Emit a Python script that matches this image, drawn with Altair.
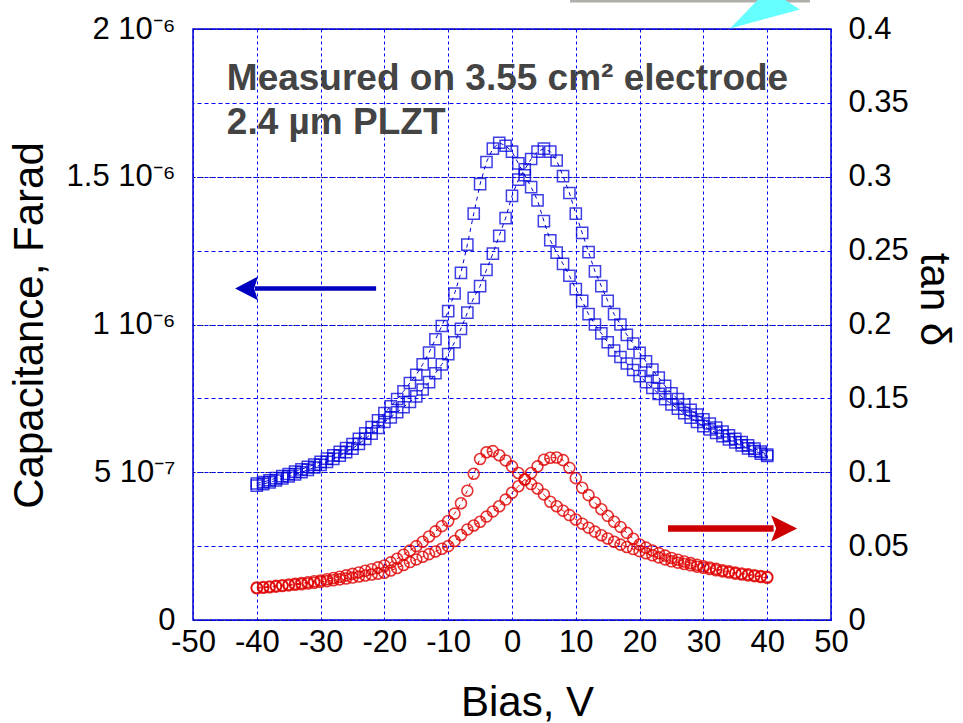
import altair as alt
import pandas as pd

FONT = "Liberation Sans"

# ---------------- data ----------------
bias_v = list(range(-40, 41))

# capacitance in units of 1e-7 F
cap_branch_a = [
    4.62, 4.67, 4.73, 4.80, 4.87, 4.94, 5.02, 5.10, 5.18, 5.26,
    5.35, 5.46, 5.57, 5.69, 5.82, 5.95, 6.13, 6.32, 6.53, 6.76,
    7.00, 7.23, 7.48, 7.74, 8.02, 8.30, 8.65, 9.05, 9.50, 9.95,
    10.45, 11.05, 11.75, 12.70, 13.75, 14.75, 15.50, 15.95, 16.15, 16.05,
    15.85, 15.45, 15.05, 14.65, 14.20, 13.50, 12.85, 12.43, 12.05, 11.65,
    11.20, 10.80, 10.35, 10.00, 9.70, 9.40, 9.12, 8.90, 8.68, 8.46,
    8.25, 8.05, 7.85, 7.65, 7.47, 7.30, 7.15, 7.00, 6.85, 6.70,
    6.56, 6.45, 6.33, 6.22, 6.11, 6.01, 5.91, 5.81, 5.72, 5.63,
    5.55,
]
cap_branch_b = [
    4.55, 4.60, 4.66, 4.72, 4.79, 4.86, 4.93, 5.00, 5.08, 5.16,
    5.25, 5.35, 5.45, 5.56, 5.68, 5.80, 5.96, 6.13, 6.31, 6.50,
    6.70, 6.86, 7.03, 7.20, 7.38, 7.57, 7.80, 8.05, 8.35, 8.65,
    9.00, 9.40, 9.85, 10.40, 10.90, 11.30, 11.85, 12.40, 13.00, 13.60,
    14.35, 14.90, 15.25, 15.60, 15.85, 15.95, 15.85, 15.55, 15.02, 14.45,
    13.75, 13.10, 12.45, 11.80, 11.30, 10.80, 10.35, 10.00, 9.65, 9.35,
    9.04, 8.75, 8.47, 8.20, 7.92, 7.67, 7.48, 7.29, 7.11, 6.95,
    6.79, 6.65, 6.51, 6.38, 6.25, 6.13, 6.02, 5.91, 5.80, 5.70,
    5.60,
]
tan_branch_a = [
    0.0220, 0.0223, 0.0227, 0.0231, 0.0235, 0.0240, 0.0245, 0.0250, 0.0256, 0.0262,
    0.0268, 0.0276, 0.0284, 0.0293, 0.0302, 0.0312, 0.0322, 0.0333, 0.0344, 0.0356,
    0.0369, 0.0390, 0.0415, 0.0442, 0.0470, 0.0500, 0.0530, 0.0565, 0.0600, 0.0635,
    0.0670, 0.0720, 0.0790, 0.0875, 0.0990, 0.1090, 0.1135, 0.1143, 0.1115, 0.1080,
    0.1040, 0.0995, 0.0951, 0.0920, 0.0890, 0.0850, 0.0800, 0.0770, 0.0740, 0.0710,
    0.0680, 0.0652, 0.0625, 0.0598, 0.0574, 0.0552, 0.0530, 0.0510, 0.0494, 0.0480,
    0.0466, 0.0452, 0.0438, 0.0424, 0.0410, 0.0397, 0.0388, 0.0379, 0.0370, 0.0361,
    0.0353, 0.0345, 0.0337, 0.0329, 0.0321, 0.0314, 0.0308, 0.0302, 0.0297, 0.0291,
    0.0286,
]
tan_branch_b = [
    0.0215, 0.0218, 0.0222, 0.0226, 0.0230, 0.0234, 0.0238, 0.0242, 0.0247, 0.0252,
    0.0258, 0.0263, 0.0269, 0.0275, 0.0281, 0.0287, 0.0294, 0.0301, 0.0308, 0.0314,
    0.0320, 0.0335, 0.0352, 0.0372, 0.0392, 0.0410, 0.0428, 0.0446, 0.0464, 0.0482,
    0.0500, 0.0535, 0.0575, 0.0613, 0.0640, 0.0665, 0.0700, 0.0735, 0.0770, 0.0815,
    0.0861, 0.0905, 0.0951, 0.0995, 0.1040, 0.1085, 0.1098, 0.1100, 0.1082, 0.1030,
    0.0960, 0.0895, 0.0845, 0.0795, 0.0750, 0.0705, 0.0665, 0.0630, 0.0590, 0.0550,
    0.0511, 0.0490, 0.0471, 0.0453, 0.0436, 0.0420, 0.0408, 0.0396, 0.0385, 0.0374,
    0.0364, 0.0355, 0.0346, 0.0337, 0.0329, 0.0321, 0.0315, 0.0309, 0.0303, 0.0297,
    0.0292,
]

# tick labels
x_tick_values = [-50, -40, -30, -20, -10, 0, 10, 20, 30, 40, 50]
x_tick_labels = ["-50", "-40", "-30", "-20", "-10", "0", "10", "20", "30", "40", "50"]
cap_tick_values = [0, 5, 10, 15, 20]
cap_tick_labels = ["0", "5 10\u207b\u2077", "1 10\u207b\u2076", "1.5 10\u207b\u2076", "2 10\u207b\u2076"]
tan_tick_values = [0, 0.05, 0.1, 0.15, 0.2, 0.25, 0.3, 0.35, 0.4]
tan_tick_labels = ["0", "0.05", "0.1", "0.15", "0.2", "0.25", "0.3", "0.35", "0.4"]

# annotations (in data coordinates)
note_lines = ["Measured on 3.55 cm\u00b2 electrode", "2.4 \u00b5m PLZT"]
note_x = [-44.7, -44.7]
note_cap = [17.92, 16.43]

blue_arrow_x = [-40.3, -21.3]
blue_arrow_cap = 11.22
blue_head_x = -43.4
red_arrow_x = [24.45, 41.0]
red_arrow_tan = 0.0619
red_head_x = 44.7

deco_bar_x = [9.1, 46.7]
deco_bar_cap = 20.98
deco_tri_x = 39.97
deco_tri_cap = 20.66


def label_expr(values, labels):
    expr = "''"
    for v, l in reversed(list(zip(values, labels))):
        expr = f"(abs(datum.value - ({v})) < 1e-9 ? '{l}' : {expr})"
    return expr


n = len(bias_v)
cap_df = pd.DataFrame({
    "bias": bias_v * 2,
    "cap": cap_branch_a + cap_branch_b,
    "branch": ["a"] * n + ["b"] * n,
})
tan_df = pd.DataFrame({
    "bias": bias_v * 2,
    "tan": tan_branch_a + tan_branch_b,
    "branch": ["a"] * n + ["b"] * n,
})
note_df = pd.DataFrame({"x": note_x, "cap": note_cap, "text": note_lines})
blue_arrow_df = pd.DataFrame({"x1": [blue_arrow_x[0]], "x2": [blue_arrow_x[1]], "cap": [blue_arrow_cap]})
blue_head_df = pd.DataFrame({"x": [blue_head_x], "cap": [blue_arrow_cap]})
red_arrow_df = pd.DataFrame({"x1": [red_arrow_x[0]], "x2": [red_arrow_x[1]], "tan": [red_arrow_tan]})
red_head_df = pd.DataFrame({"x": [red_head_x], "tan": [red_arrow_tan]})
deco_bar_df = pd.DataFrame({"x1": [deco_bar_x[0]], "x2": [deco_bar_x[1]], "cap": [deco_bar_cap]})
deco_tri_df = pd.DataFrame({"x": [deco_tri_x], "cap": [deco_tri_cap]})

# ---------------- scales & axes ----------------
x_scale = alt.Scale(domain=[-50, 50], nice=False, zero=False)
cap_scale = alt.Scale(domain=[0, 20], nice=False, zero=False)
tan_scale = alt.Scale(domain=[0, 0.4], nice=False, zero=False)

x_axis = alt.Axis(
    values=x_tick_values, labelExpr=label_expr(x_tick_values, x_tick_labels),
    grid=True, gridColor="#0000ff", gridDash=[3, 3], gridWidth=1,
    domain=False, ticks=False,
    labelFont=FONT, labelFontSize=31, labelColor="black", labelPadding=7,
    labelFlush=False, labelOverlap=False,
    title="Bias, V", titleFont=FONT, titleFontSize=42, titleFontWeight="normal",
    titleColor="black", titleX=334, titleY=82, titleAlign="center",
    titleBaseline="middle",
)
cap_axis = alt.Axis(
    orient="left", values=cap_tick_values,
    labelExpr=label_expr(cap_tick_values, cap_tick_labels),
    grid=True, gridColor="#000044", gridDash=[2, 2], gridWidth=1,
    domain=False, ticks=False,
    labelFont=FONT, labelFontSize=31, labelColor="black", labelPadding=18,
    labelFlush=False, labelOverlap=False,
    title="Capacitance, Farad", titleFont=FONT, titleFontSize=42,
    titleFontWeight="normal", titleColor="black", titleAngle=-90,
    titleX=-164, titleY=296, titleAlign="center", titleBaseline="middle",
)
tan_axis = alt.Axis(
    orient="right", values=tan_tick_values,
    labelExpr=label_expr(tan_tick_values, tan_tick_labels),
    grid=True, gridColor="#0000ff", gridDash=[4, 3], gridWidth=1,
    domain=False, ticks=False,
    labelFont=FONT, labelFontSize=31, labelColor="black", labelPadding=17,
    labelFlush=False, labelOverlap=False,
    title="tan \u03b4", titleFont=FONT, titleFontSize=42, titleFontWeight="normal",
    titleColor="black", titleAngle=90, titleX=102, titleY=270,
    titleAlign="center", titleBaseline="middle",
)

X = lambda f: alt.X(f, type="quantitative", scale=x_scale, axis=x_axis)
YC = lambda f: alt.Y(f, type="quantitative", scale=cap_scale, axis=cap_axis)
YT = lambda f: alt.Y(f, type="quantitative", scale=tan_scale, axis=tan_axis)

# ---------------- left (capacitance) layers ----------------
cap_line = alt.Chart(cap_df).mark_line(
    color="#0000cc", strokeWidth=1, strokeDash=[4, 4]
).encode(x=X("bias"), y=YC("cap"), detail="branch:N", order="bias:Q")

cap_pts = alt.Chart(cap_df).mark_point(
    shape="square", filled=False, size=125, color="#0000dd",
    strokeWidth=1.5, opacity=0.75,
).encode(x=X("bias"), y=YC("cap"))

blue_shaft = alt.Chart(blue_arrow_df).mark_rule(
    color="#0000c0", strokeWidth=4.5
).encode(x=X("x1"), x2="x2:Q", y=YC("cap"))

blue_head = alt.Chart(blue_head_df).mark_point(
    shape="M0,0L23,-12L19,0L23,12Z", filled=True, size=4,
    color="#0000c0", opacity=1,
).encode(x=X("x"), y=YC("cap"))

notes = alt.Chart(note_df).mark_text(
    align="left", baseline="alphabetic", font=FONT, fontSize=37,
    fontWeight="bold", color="#444444",
).encode(x=X("x"), y=YC("cap"), text="text:N")

deco_bar = alt.Chart(deco_bar_df).mark_rule(
    color="#b0aeaa", strokeWidth=5
).encode(x=X("x1"), x2="x2:Q", y=YC("cap"))

deco_tri = alt.Chart(deco_tri_df).mark_point(
    shape="M-37,19L33,0L11,-14L-5,-14Z", filled=True, size=4,
    color="#66ffff", opacity=1,
).encode(x=X("x"), y=YC("cap"))

left = alt.layer(cap_line, cap_pts, blue_shaft, blue_head, notes, deco_bar, deco_tri)

# ---------------- right (tan delta) layers ----------------
tan_line = alt.Chart(tan_df).mark_line(
    color="#dd0000", strokeWidth=1, strokeDash=[4, 4]
).encode(x=X("bias"), y=YT("tan"), detail="branch:N", order="bias:Q")

tan_pts = alt.Chart(tan_df).mark_point(
    shape="circle", filled=False, size=120, color="#e00000",
    strokeWidth=1.6, opacity=0.8,
).encode(x=X("bias"), y=YT("tan"))

red_shaft = alt.Chart(red_arrow_df).mark_rule(
    color="#cc0000", strokeWidth=6.5
).encode(x=X("x1"), x2="x2:Q", y=YT("tan"))

red_head = alt.Chart(red_head_df).mark_point(
    shape="M0,0L-26,-13L-21,0L-26,13Z", filled=True, size=4,
    color="#cc0000", opacity=1,
).encode(x=X("x"), y=YT("tan"))

right = alt.layer(tan_line, tan_pts, red_shaft, red_head)

chart = alt.layer(left, right).resolve_scale(y="independent").properties(
    width=638, height=591,
    autosize=alt.AutoSizeParams(type="none"),
    padding={"left": 193, "top": 29, "right": 132, "bottom": 103},
    background="white",
).configure_view(stroke="#0000cc", strokeWidth=1.5)

chart.save("out.html", embed_options={"renderer": "svg", "actions": False})
